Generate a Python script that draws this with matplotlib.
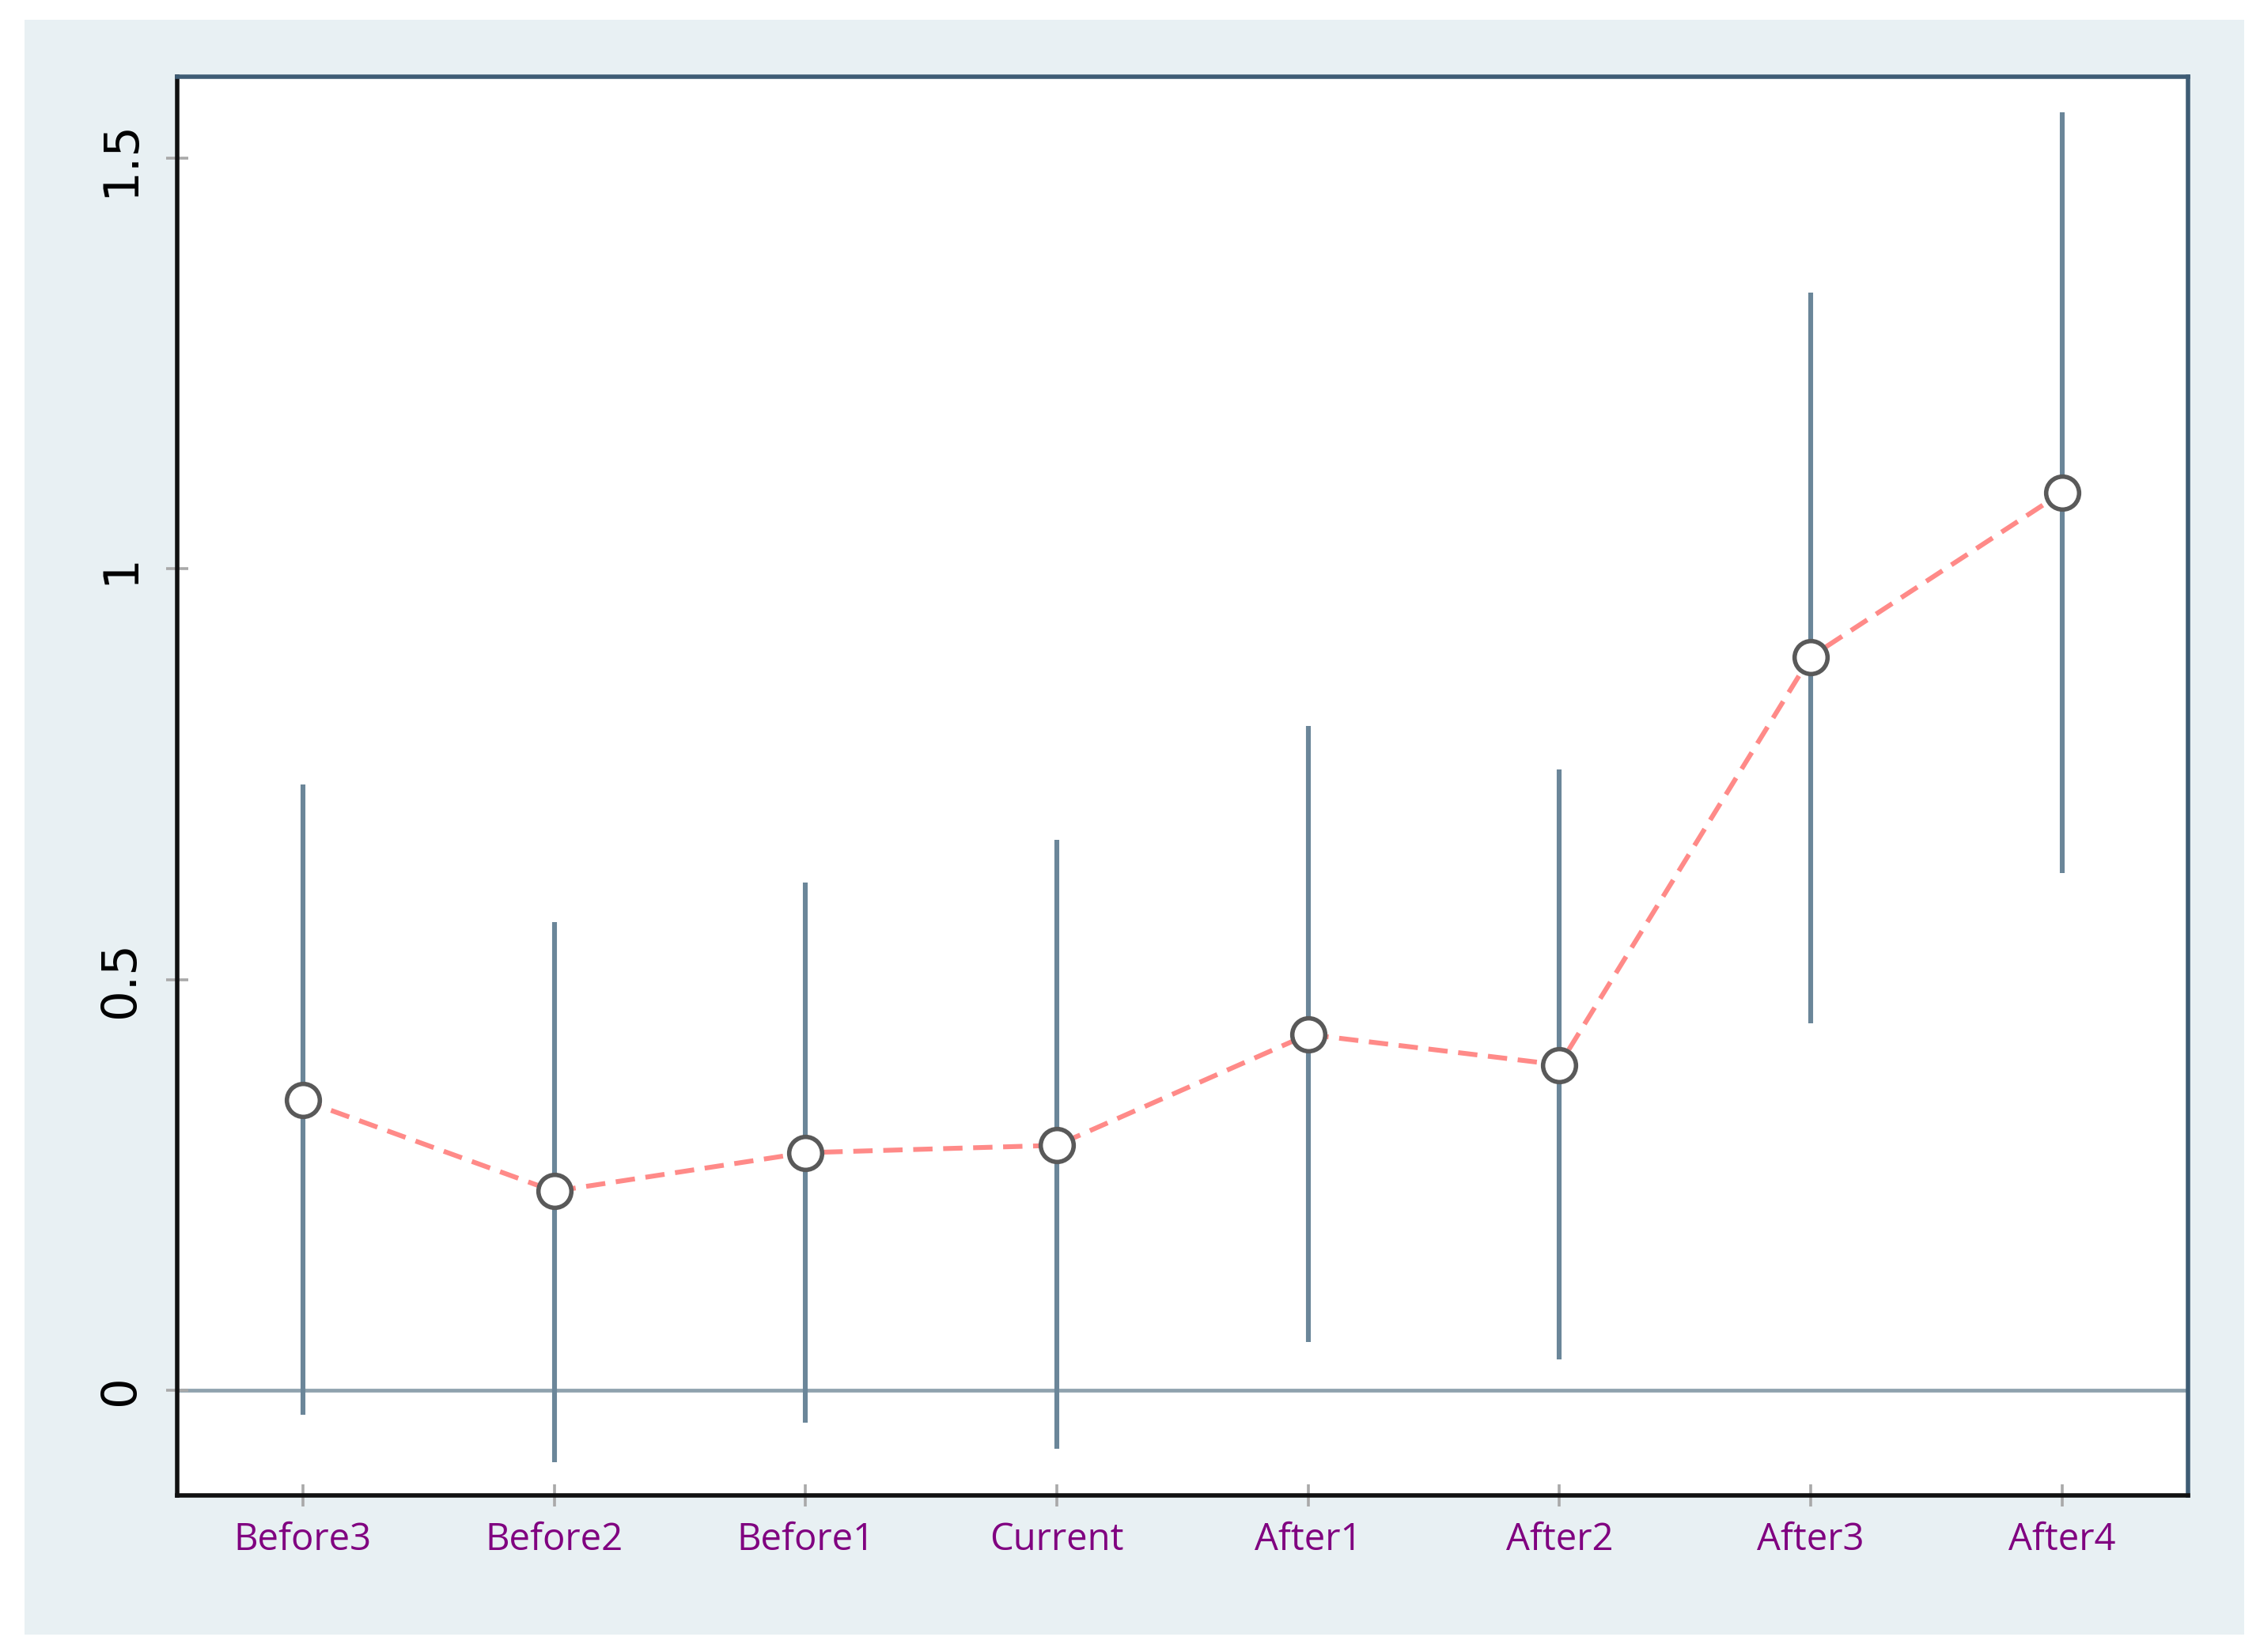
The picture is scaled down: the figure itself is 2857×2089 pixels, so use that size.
import matplotlib
matplotlib.use("Agg")
import matplotlib.pyplot as plt
from matplotlib.patches import Rectangle

categories = ["Before3", "Before2", "Before1", "Current", "After1", "After2", "After3", "After4"]
estimates = [0.353, 0.242, 0.289, 0.298, 0.433, 0.396, 0.893, 1.093]
ci_upper = [0.737, 0.570, 0.618, 0.670, 0.809, 0.756, 1.337, 1.556]
ci_lower = [-0.030, -0.088, -0.040, -0.072, 0.058, 0.037, 0.447, 0.630]
yticks = [0, 0.5, 1, 1.5]
ytick_labels = ["0", "0.5", "1", "1.5"]

DPI = 200
fig = plt.figure(figsize=(2857 / DPI, 2089 / DPI), dpi=DPI, facecolor="white")

# light outer panel
fig.patches.append(Rectangle((0.0108, 0.0105), 0.993 - 0.0108, 0.9878 - 0.0105,
                             transform=fig.transFigure, facecolor="#e8f0f3",
                             edgecolor="none", zorder=-10))

ax = fig.add_axes([0.0784, 0.095, 0.968 - 0.0784, 0.9538 - 0.095])
ax.set_zorder(5)
ax.set_facecolor("white")

x = list(range(1, len(categories) + 1))

ax.axhline(0, color="#8fa2ae", lw=1.7, zorder=1)
ax.vlines(x, ci_lower, ci_upper, color="#6b8699", lw=2.2, zorder=2)
ax.plot(x, estimates, linestyle=(0, (4.0, 2.2)), color="#ff8a88", lw=2.2, zorder=3)
ax.plot(x, estimates, linestyle="none", marker="o", markersize=15,
        markerfacecolor="white", markeredgecolor="#595959", markeredgewidth=2.0, zorder=4)

ax.set_xlim(0.5, 8.5)
ax.set_ylim(-0.128, 1.6)

ax.set_xticks(x)
ax.set_xticklabels(categories, color="#800080", fontsize=17, family="Open Sans")
ax.set_yticks(yticks)
ax.set_yticklabels(ytick_labels, rotation=90, va="center", fontsize=22, family="DejaVu Sans",
                   color="black")

ax.tick_params(axis="both", direction="inout", length=10, width=1.3, color="#a9a9a9")
ax.tick_params(axis="x", pad=7)
ax.tick_params(axis="y", pad=10)

for side in ["left", "bottom"]:
    ax.spines[side].set_color("#111111")
    ax.spines[side].set_linewidth(2.0)
for side in ["top", "right"]:
    ax.spines[side].set_color("#3e5c74")
    ax.spines[side].set_linewidth(2.0)

fig.savefig("out.png", dpi=DPI, facecolor="white")
